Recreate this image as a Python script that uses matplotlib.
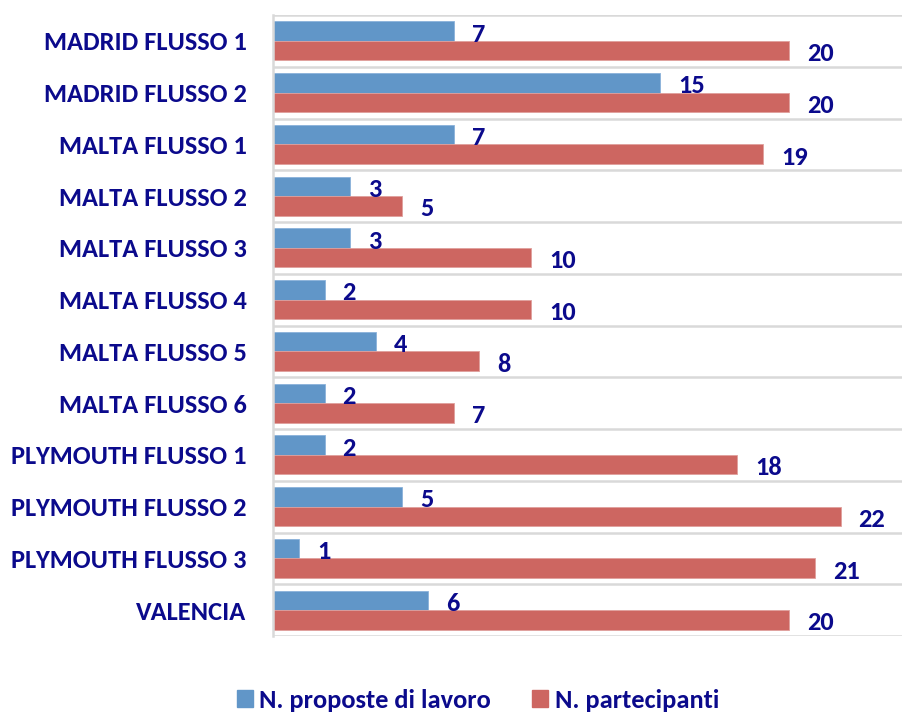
import matplotlib
matplotlib.use("Agg")
import matplotlib.pyplot as plt
import numpy as np
from matplotlib.patches import Patch

categories = ["MADRID FLUSSO 1", "MADRID FLUSSO 2", "MALTA FLUSSO 1", "MALTA FLUSSO 2",
              "MALTA FLUSSO 3", "MALTA FLUSSO 4", "MALTA FLUSSO 5", "MALTA FLUSSO 6",
              "PLYMOUTH FLUSSO 1", "PLYMOUTH FLUSSO 2", "PLYMOUTH FLUSSO 3", "VALENCIA"]
proposte = [7, 15, 7, 3, 3, 2, 4, 2, 2, 5, 1, 6]
partecipanti = [20, 20, 19, 5, 10, 10, 8, 7, 18, 22, 21, 20]
series_names = ["N. proposte di lavoro", "N. partecipanti"]

blue = "#6196C8"
red = "#CD6661"
navy = "#0B0A8C"
grid = "#D9D9D9"
FS = 19

plt.rcParams['font.family'] = ['Carlito', 'DejaVu Sans']
plt.rcParams['font.weight'] = 'bold'
fig = plt.figure(figsize=(9.03, 7.13), dpi=100)
ax = fig.add_axes([273/903, 1-636/713, 1-273/903, (636-15)/713])

n = len(categories)
y = np.arange(n)
h = 0.377
ax.barh(y - h/2, proposte, height=h, color=blue, edgecolor="#8AB2DA", linewidth=0.6)
ax.barh(y + h/2, partecipanti, height=h, color=red, edgecolor="#E0A09C", linewidth=0.6)

for i in range(n):
    ax.annotate(str(proposte[i]), (proposte[i], y[i] - h/2), xytext=(18, -3),
                textcoords="offset pixels", va="center", ha="left",
                fontsize=FS, fontweight="bold", color=navy)
    ax.annotate(str(partecipanti[i]), (partecipanti[i], y[i] + h/2), xytext=(18, -3),
                textcoords="offset pixels", va="center", ha="left",
                fontsize=FS, fontweight="bold", color=navy)

ax.set_ylim(n - 0.5, -0.5)
ax.set_xlim(0, 630/25.8)
ax.set_yticks(y)
ax.set_yticklabels(categories, fontsize=FS, fontweight="bold", color=navy)
ax.tick_params(axis="y", length=0, pad=19)
ax.set_xticks([])
for yy in np.arange(-0.5, n, 1.0):
    ax.axhline(yy, color=grid, linewidth=1.8, zorder=0)
for s in ["top", "right", "bottom"]:
    ax.spines[s].set_visible(False)
ax.spines["left"].set_color(grid)
ax.spines["left"].set_linewidth(1.8)

handles = [Patch(color=blue), Patch(color=red)]
leg = fig.legend(handles, series_names, loc="center", bbox_to_anchor=(478/903, 1-700/713),
                 ncol=2, frameon=False, handlelength=0.6, handleheight=0.6,
                 handletextpad=0.25, columnspacing=1.55,
                 prop={'family': ['Carlito', 'DejaVu Sans'], 'weight': 'bold', 'size': FS})
for t in leg.get_texts():
    t.set_color(navy)

fig.savefig("out.png", dpi=100)
